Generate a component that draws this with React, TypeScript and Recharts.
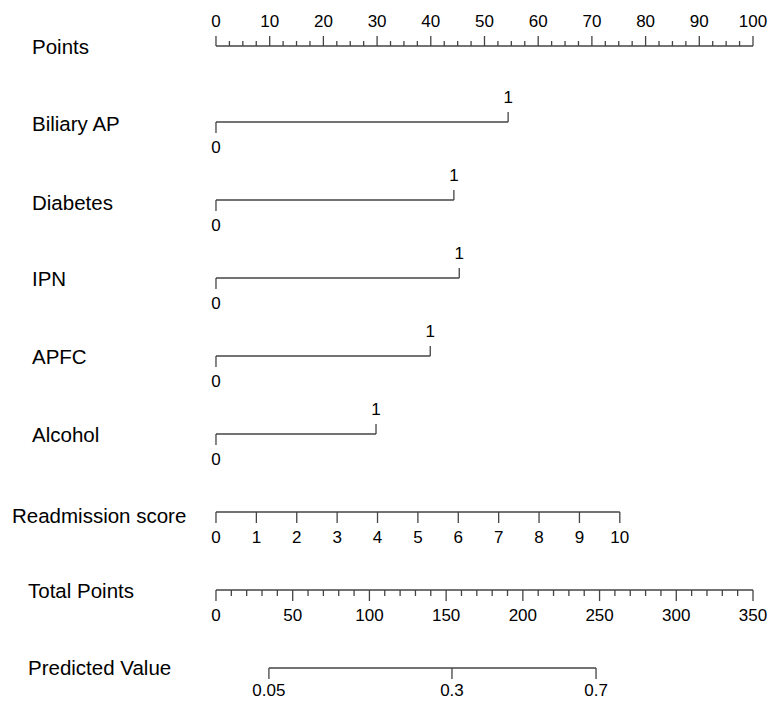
import React from 'react';
import { ScatterChart, Scatter, XAxis, YAxis, ReferenceLine } from 'recharts';

// ---------- data ----------
const pointsTicks = [0, 10, 20, 30, 40, 50, 60, 70, 80, 90, 100];
const pointsMinorStep = 2.5;

const variableNames = ['Biliary AP', 'Diabetes', 'IPN', 'APFC', 'Alcohol'];
const variableLevels = ['0', '1'];
const variablePointsAtOne = [54.4, 44.3, 45.3, 39.9, 29.8];

const readmissionScores = [0, 1, 2, 3, 4, 5, 6, 7, 8, 9, 10];
const readmissionPointsAtMax = 75.2;

const totalPointsTicks = [0, 50, 100, 150, 200, 250, 300, 350];
const totalPointsMinorStep = 10;
const totalPointsMax = 350;

const predictedValues = ['0.05', '0.3', '0.7'];
const predictedTotalPoints = [34.5, 153.8, 247.7];

const rowLabels = ['Points', ...variableNames, 'Readmission score', 'Total Points', 'Predicted Value'];

// ---------- layout ----------
const W = 769;
const H = 702;
const X_DOMAIN: [number, number] = [-40.22, 102.98];
const ROW_GAP = 78;
const rowY = rowLabels.map((_, i) => (i === 0 ? 46 : 122 + (i - 1) * ROW_GAP));
const rowLabelX = [32, 32, 32, 32, 32, 32, 12, 28, 28];
const rowLabelDy = [8, 9, 10, 8, 8, 8, 11, 8, 7];
const FONT = '"Liberation Sans", Arial, Helvetica, sans-serif';
const LINE = '#444444';
const LW = 1.3;

type Mark = { x: number; y: number; len: number; label?: string; side?: 'above' | 'below'; off?: number };

const marks: Mark[] = [];
const segments: { x1: number; x2: number; y: number }[] = [];

// Points axis
{
  const y = rowY[0];
  segments.push({ x1: 0, x2: 100, y });
  for (let v = 0; v <= 100 + 1e-9; v += pointsMinorStep) {
    const major = pointsTicks.includes(v);
    marks.push({ x: v, y, len: major ? -10 : -5, label: major ? String(v) : undefined, side: 'above' });
  }
}
// Binary variables
variableNames.forEach((_, i) => {
  const y = rowY[1 + i];
  const p = variablePointsAtOne[i];
  segments.push({ x1: 0, x2: p, y });
  marks.push({ x: 0, y, len: 11, label: variableLevels[0], side: 'below' });
  marks.push({ x: p, y, len: -10, label: variableLevels[1], side: 'above' });
});
// Readmission score
{
  const y = rowY[6];
  const maxScore = readmissionScores[readmissionScores.length - 1];
  segments.push({ x1: 0, x2: readmissionPointsAtMax, y });
  readmissionScores.forEach((s) => {
    marks.push({ x: (s / maxScore) * readmissionPointsAtMax, y, len: 11, label: String(s), side: 'below' });
  });
}
// Total points + predicted value
{
  const y = rowY[7];
  const toPts = (t: number) => (t / totalPointsMax) * 100;
  segments.push({ x1: 0, x2: 100, y });
  for (let t = 0; t <= totalPointsMax + 1e-9; t += totalPointsMinorStep) {
    const major = totalPointsTicks.includes(t);
    marks.push({ x: toPts(t), y, len: major ? 11 : 6, label: major ? String(t) : undefined, side: 'below' });
  }
  const yp = rowY[8];
  const xs = predictedTotalPoints.map(toPts);
  segments.push({ x1: xs[0], x2: xs[xs.length - 1], y: yp });
  predictedValues.forEach((lab, i) => {
    marks.push({ x: xs[i], y: yp, len: 11, label: lab, side: 'below', off: 28 });
  });
}

const labelData = rowLabels.map((name, i) => ({ x: 0, y: rowY[i], name, lx: rowLabelX[i], dy: rowLabelDy[i] }));

const TickMark = (props: any) => {
  const { cx, cy, payload } = props;
  if (cx == null || cy == null) return null;
  const m = payload as Mark;
  const ty = m.side === 'above' ? cy - 19 : cy + (m.off ?? 31);
  return (
    <g>
      <line x1={cx} x2={cx} y1={cy} y2={cy + m.len} stroke={LINE} strokeWidth={LW} />
      {m.label != null && (
        <text x={cx} y={ty} textAnchor="middle" fontFamily={FONT} fontSize={17} fill="#000">
          {m.label}
        </text>
      )}
    </g>
  );
};

const RowLabel = (props: any) => {
  const { cy, payload } = props;
  if (cy == null) return null;
  return (
    <text x={payload.lx} y={cy + payload.dy} textAnchor="start" fontFamily={FONT} fontSize={20.5} fill="#000">
      {payload.name}
    </text>
  );
};

export default function App() {
  return (
    <div style={{ position: 'fixed', left: 0, top: 0, width: W, height: H, background: '#fff' }}>
      <ScatterChart width={W} height={H} margin={{ top: 0, right: 0, bottom: 0, left: 0 }}>
        <XAxis type="number" dataKey="x" domain={X_DOMAIN} allowDataOverflow hide />
        <YAxis type="number" dataKey="y" domain={[0, H]} reversed allowDataOverflow hide />
        {segments.map((s, i) => (
          <ReferenceLine
            key={i}
            segment={[{ x: s.x1, y: s.y }, { x: s.x2, y: s.y }]}
            stroke={LINE}
            strokeWidth={LW}
            ifOverflow="visible"
          />
        ))}
        <Scatter data={marks} isAnimationActive={false} shape={(p: any) => <TickMark {...p} />} />
        <Scatter data={labelData} isAnimationActive={false} shape={(p: any) => <RowLabel {...p} />} />
      </ScatterChart>
    </div>
  );
}
